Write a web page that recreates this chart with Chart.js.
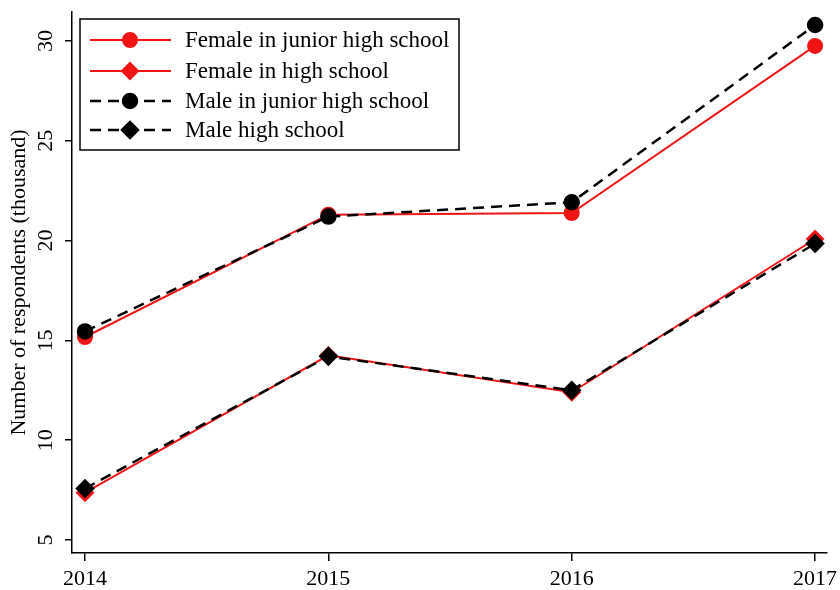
<!DOCTYPE html>
<html>
<head>
<meta charset="utf-8">
<script src="https://cdn.jsdelivr.net/npm/chart.js@4"></script>
<style>
  body { margin: 0; background: #fff; }
  #wrap { width: 840px; height: 590px; }
</style>
</head>
<body>
<div id="wrap"><canvas id="myCanvas" width="840" height="590"></canvas></div>
<script>
// values (thousand respondents)
let years = [2014, 2015, 2016, 2017];
let femaleJunior = [15.17, 21.3, 21.38, 29.75];
let femaleHigh = [7.37, 14.25, 12.4, 20.08];
let maleJunior = [15.45, 21.2, 21.92, 30.8];
let maleHigh = [7.58, 14.2, 12.5, 19.85];
let yTicks = [5, 10, 15, 20, 25, 30];
let seriesNames = ["Female in junior high school", "Female in high school",
    "Male in junior high school", "Male high school"];

let red = 'rgb(240,20,20)';
let black = 'rgb(0,0,0)';
let serif = "'Liberation Serif', 'Times New Roman', serif";

function pts(vals) {
    return vals.map((v, i) => ({ x: years[i], y: v }));
}

// legend box drawn inside the plot, like the original
const boxLegend = {
    id: 'boxLegend',
    afterDraw(chart) {
        let ctx = chart.ctx;
        ctx.save();
        ctx.strokeStyle = black;
        ctx.lineWidth = 1.5;
        ctx.strokeRect(80, 19, 379, 131);
        let rows = [40, 71, 101, 130];
        chart.data.datasets.forEach((ds, i) => {
            let y = rows[i];
            ctx.strokeStyle = ds.borderColor;
            ctx.lineWidth = ds.borderWidth;
            ctx.setLineDash(ds.borderDash || []);
            ctx.beginPath();
            ctx.moveTo(90, y);
            ctx.lineTo(171, y);
            ctx.stroke();
            ctx.setLineDash([]);
            ctx.fillStyle = ds.pointBackgroundColor;
            ctx.strokeStyle = ds.pointBorderColor;
            Chart.helpers.drawPoint(ctx, {
                pointStyle: ds.pointStyle, radius: ds.pointRadius, borderWidth: 1, rotation: 0
            }, 130, y);
            ctx.fillStyle = black;
            ctx.font = "23px " + serif;
            ctx.textBaseline = 'middle';
            ctx.textAlign = 'left';
            ctx.fillText(ds.label, 185, y + 1);
        });
        ctx.restore();
    }
};

// centre the rotated y tick labels on their ticks
const centreYTicks = {
    id: 'centreYTicks',
    beforeDraw(chart) {
        let items = chart.scales.y.getLabelItems();
        items.forEach(it => {
            it.options.textAlign = 'center';
            it.options.translation[0] = 46;
        });
    }
};

let canvas = document.getElementById("myCanvas");
let ctx = canvas.getContext("2d");

new Chart(ctx, {
    type: 'line',
    data: {
        datasets: [{
            label: seriesNames[0],
            data: pts(femaleJunior),
            borderColor: red, borderWidth: 2,
            pointStyle: 'circle', pointRadius: 7,
            pointBackgroundColor: red, pointBorderColor: red,
            order: 3
        }, {
            label: seriesNames[1],
            data: pts(femaleHigh),
            borderColor: red, borderWidth: 2,
            pointStyle: 'rectRot', pointRadius: 8,
            pointBackgroundColor: red, pointBorderColor: red,
            order: 2
        }, {
            label: seriesNames[2],
            data: pts(maleJunior),
            borderColor: black, borderWidth: 2.5, borderDash: [11, 7],
            pointStyle: 'circle', pointRadius: 7,
            pointBackgroundColor: black, pointBorderColor: black,
            order: 1
        }, {
            label: seriesNames[3],
            data: pts(maleHigh),
            borderColor: black, borderWidth: 2.5, borderDash: [11, 7],
            pointStyle: 'rectRot', pointRadius: 8,
            pointBackgroundColor: black, pointBorderColor: black,
            order: 0
        }]
    },
    options: {
        responsive: false,
        animation: false,
        layout: { padding: { top: 12, right: 13, left: 0, bottom: 0 } },
        elements: { line: { tension: 0 } },
        plugins: {
            legend: { display: false },
            tooltip: { enabled: false }
        },
        scales: {
            x: {
                type: 'linear',
                min: 2013.9465,
                max: 2017.049,
                afterBuildTicks: s => { s.ticks = years.map(v => ({ value: v })); },
                afterFit: s => { s.height = 37; s.paddingLeft = 0; s.paddingRight = 0; },
                border: { display: true, color: black, width: 1.5 },
                grid: { drawOnChartArea: false, drawTicks: true, tickLength: 8, color: black, lineWidth: 1.5 },
                ticks: {
                    color: black, padding: 5, maxRotation: 0,
                    font: { family: serif, size: 22 },
                    callback: v => String(v)
                }
            },
            y: {
                min: 4.35,
                max: 31.45,
                afterBuildTicks: s => { s.ticks = yTicks.map(v => ({ value: v })); },
                afterFit: s => { s.width = 72; s.paddingTop = 0; s.paddingBottom = 0; },
                border: { display: true, color: black, width: 1.5 },
                grid: { drawOnChartArea: false, drawTicks: true, tickLength: 7, color: black, lineWidth: 1.5 },
                ticks: {
                    color: black, minRotation: 90, maxRotation: 90,
                    font: { family: serif, size: 22 }
                },
                title: {
                    display: true,
                    text: 'Number of respondents (thousand)',
                    color: black,
                    font: { family: serif, size: 22 },
                    padding: { top: 6, bottom: 0 }
                }
            }
        }
    },
    plugins: [boxLegend, centreYTicks]
});
</script>
</body>
</html>
